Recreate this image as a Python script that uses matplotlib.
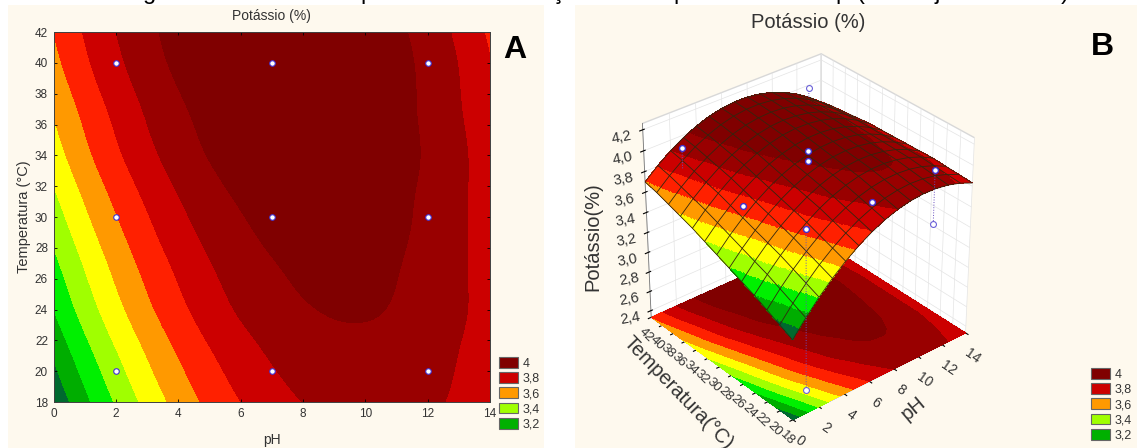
import numpy as np
import matplotlib
matplotlib.use('Agg')
import matplotlib.pyplot as plt
from matplotlib.colors import ListedColormap, BoundaryNorm
from matplotlib.patches import Patch, Rectangle
from matplotlib.tri import Triangulation, UniformTriRefiner

plt.rcParams['font.family'] = ['Liberation Sans', 'DejaVu Sans']

ph = [0, 1, 2, 3, 4, 5, 6, 7, 8, 9, 10, 11, 12, 13, 14]
temp = [18, 20, 22, 24, 26, 28, 30, 32, 34, 36, 38, 40, 42]
potassio = [
    [3.120, 3.272, 3.409, 3.530, 3.635, 3.725, 3.799, 3.858, 3.901, 3.928, 3.940, 3.936, 3.917, 3.882, 3.831],
    [3.180, 3.328, 3.461, 3.579, 3.680, 3.766, 3.837, 3.892, 3.931, 3.954, 3.963, 3.955, 3.932, 3.893, 3.839],
    [3.240, 3.385, 3.514, 3.627, 3.725, 3.808, 3.874, 3.925, 3.961, 3.981, 3.985, 3.974, 3.947, 3.904, 3.846],
    [3.300, 3.441, 3.566, 3.676, 3.770, 3.849, 3.912, 3.959, 3.991, 4.007, 4.008, 3.992, 3.962, 3.916, 3.854],
    [3.350, 3.487, 3.609, 3.715, 3.805, 3.880, 3.939, 3.983, 4.011, 4.023, 4.020, 4.001, 3.967, 3.917, 3.851],
    [3.400, 3.533, 3.651, 3.754, 3.840, 3.911, 3.967, 4.007, 4.031, 4.039, 4.033, 4.010, 3.972, 3.918, 3.849],
    [3.450, 3.580, 3.694, 3.792, 3.875, 3.943, 3.994, 4.030, 4.051, 4.056, 4.045, 4.019, 3.977, 3.919, 3.846],
    [3.500, 3.626, 3.736, 3.831, 3.910, 3.974, 4.022, 4.054, 4.071, 4.072, 4.058, 4.027, 3.982, 3.921, 3.844],
    [3.550, 3.672, 3.779, 3.870, 3.945, 4.005, 4.049, 4.078, 4.091, 4.088, 4.070, 4.036, 3.987, 3.922, 3.841],
    [3.590, 3.708, 3.811, 3.899, 3.970, 4.026, 4.067, 4.092, 4.101, 4.094, 4.073, 4.035, 3.982, 3.913, 3.829],
    [3.630, 3.745, 3.844, 3.927, 3.995, 4.048, 4.084, 4.105, 4.111, 4.101, 4.075, 4.034, 3.977, 3.904, 3.816],
    [3.670, 3.781, 3.876, 3.956, 4.020, 4.069, 4.102, 4.119, 4.121, 4.107, 4.078, 4.032, 3.972, 3.896, 3.804],
    [3.700, 3.807, 3.899, 3.975, 4.035, 4.080, 4.109, 4.123, 4.121, 4.103, 4.070, 4.021, 3.957, 3.877, 3.781],
]
levels = [2.9, 3.2, 3.3, 3.4, 3.5, 3.6, 3.7, 3.8, 3.9, 4.0, 4.3]
band_colors = ['#00692f', '#00ad00', '#00f000', '#a0ff00', '#ffff00',
               '#ff9900', '#ff2000', '#cc0000', '#990000', '#800000']

# design points of panel A
design_ph = [2, 2, 2, 7, 7, 7, 12, 12, 12]
design_temp = [20, 30, 40, 20, 30, 40, 20, 30, 40]

# observed points of panel B
obs_ph = [2, 2, 7, 7, 7, 12, 2]
obs_temp = [40, 30, 30, 30, 20, 20, 20]
obs_k = [4.00, 3.81, 4.07, 3.97, 3.95, 3.99, 3.97]
open_ph = [12, 2, 12]
open_temp = [20, 20, 40]
open_k = [3.47, 2.41, 4.08]
# other end of the dotted stem of each open point, then the stem of pH 2, T 40
stem_ph = [12, 2, 12, 2]
stem_temp = [20, 20, 40, 40]
stem_low = [3.47, 2.41, 4.00, 3.80]
stem_high = [3.99, 3.97, 4.08, 4.00]

legend_labels = ['4', '3,8', '3,6', '3,4', '3,2']
legend_colors = ['#800000', '#cc0000', '#ff9900', '#a0ff00', '#00b000']
caption_bits = [('g', 150), ('p', 367), ('ç', 558), ('p', 680), ('p', 842),
                ('(', 860), ('j', 937), (')', 1065)]

W, H = 1137, 448
X, Y = np.meshgrid(ph, temp)
Z = np.array(potassio)
text_col = '#333333'

# matplotlib's refiner smooths the bands between the read grid values
tri = Triangulation(X.ravel(), Y.ravel())
tri_fine, z_fine = UniformTriRefiner(tri).refine_field(Z.ravel(), subdiv=4)


def box(x0, y0, x1, y1):
    # pixel box (top-left origin) to figure fractions
    return [x0 / W, 1 - y1 / H, (x1 - x0) / W, (y1 - y0) / H]


def comma(v):
    return f'{v:.1f}'.replace('.', ',')


fig = plt.figure(figsize=(W / 100, H / 100), dpi=100, facecolor='white')
fig.add_artist(Rectangle((8 / W, 0), 536 / W, 1 - 5 / H, transform=fig.transFigure, color='#fef9ee', lw=0, zorder=-1))
fig.add_artist(Rectangle((575 / W, 0), 562 / W, 1 - 5 / H, transform=fig.transFigure, color='#fef9ee', lw=0, zorder=-1))
for ch, px in caption_bits:
    fig.text(px / W, 1 + 1 / H, ch, fontsize=17, color='black', ha='center', va='baseline')

# Panel A
ax = fig.add_axes(box(53.5, 32, 490, 402))
ax.tricontourf(tri_fine, z_fine, levels=levels, colors=band_colors)
ax.scatter(design_ph, design_temp, s=16, c='white', edgecolors='#4030d0', linewidths=0.8, zorder=3)
ax.set_xlim(0, 14)
ax.set_ylim(18, 42)
ax.set_xticks(range(0, 15, 2))
ax.set_yticks(range(18, 43, 2))
ax.tick_params(direction='in', top=True, right=True, length=2.5, width=0.6, labelsize=8.5, labelcolor=text_col, pad=4)
for s in ax.spines.values():
    s.set_linewidth(0.7)
    s.set_color('#404040')
ax.set_xlabel('pH', fontsize=10, color=text_col, labelpad=10)
ax.set_ylabel('Temperatura (°C)', fontsize=10.5, color=text_col, labelpad=3)
ax.set_title('Potássio (%)', fontsize=10, color=text_col, pad=9)


def band_legend(x_px, y_px):
    handles = [Patch(facecolor=c, edgecolor='#666666', lw=0.8) for c in legend_colors]
    fig.legend(handles, legend_labels, loc='upper left', bbox_to_anchor=(x_px / W, 1 - y_px / H),
               frameon=False, fontsize=9, labelcolor=text_col, handlelength=1.5, handleheight=0.95,
               handletextpad=0.4, labelspacing=0.2, borderpad=0, borderaxespad=0)


band_legend(499, 357)
fig.text(515 / W, 1 - 50 / H, 'A', fontsize=23, fontweight='bold', ha='center', va='center', color='black')

# Panel B
zlow, zhigh = 2.33, 4.26
ax3 = fig.add_axes(box(597, 31, 1007, 441), projection='3d', computed_zorder=False)
ax3.patch.set_alpha(0)
ax3.view_init(elev=32, azim=-130)
ax3.set_box_aspect((1, 1, 1.0), zoom=0.94)
ax3.set_xlim(0, 14)
ax3.set_ylim(18, 42)
ax3.set_zlim(zlow, zhigh)
ax3.contourf(X, Y, Z, levels=levels, colors=band_colors, zdir='z', offset=zlow, zorder=1)

ax3.plot_trisurf(tri_fine, z_fine, cmap=ListedColormap(band_colors), norm=BoundaryNorm(levels, len(band_colors)),
                 linewidth=0, antialiased=False, shade=False, zorder=2)
ax3.plot_wireframe(X, Y, Z, rstride=1, cstride=1, color='#33260f', linewidth=0.6, zorder=3)

for p, t, lo, hi in zip(stem_ph, stem_temp, stem_low, stem_high):
    ax3.plot([p, p], [t, t], [lo, hi], color='#6a50c0', lw=0.7, ls=':', zorder=4)
ax3.scatter(obs_ph, obs_temp, obs_k, s=18, c='white', edgecolors='#4030d0', linewidths=1.0,
            depthshade=False, zorder=5)
ax3.scatter(open_ph, open_temp, open_k, s=18, c='white', edgecolors='#6a60d8', linewidths=0.8,
            depthshade=False, zorder=5)

ax3.set_xticks(range(0, 15, 2))
ax3.set_yticks(range(18, 43, 2))
zt = [2.4, 2.6, 2.8, 3.0, 3.2, 3.4, 3.6, 3.8, 4.0, 4.2]
ax3.set_zticks(zt)
ax3.set_zticklabels([comma(v) for v in zt])
ax3.tick_params(axis='x', labelsize=10, labelcolor=text_col, pad=-1, labelrotation=-35)
ax3.tick_params(axis='y', labelsize=9.5, labelcolor=text_col, pad=-3, labelrotation=-45)
ax3.tick_params(axis='z', labelsize=10.5, labelcolor=text_col, pad=2, labelrotation=10)
for a in (ax3.xaxis, ax3.yaxis, ax3.zaxis):
    a.set_pane_color('white')
    a.pane.set_edgecolor('#d8d8d8')
    a.line.set_color('#777777')
    a.line.set_linewidth(0.6)
    a._axinfo['grid'].update(color='#e4e4e4', linewidth=0.5)

fig.text(808 / W, 1 - 22 / H, 'Potássio (%)', fontsize=14.5, color=text_col, ha='center', va='center')
fig.text(593 / W, 1 - 237 / H, 'Potássio(%)', fontsize=14.5, color=text_col, rotation=90, ha='center', va='center')
fig.text(678 / W, 1 - 393 / H, 'Temperatura(°C)', fontsize=14.5, color=text_col, rotation=-46, ha='center', va='center', rotation_mode='anchor')
fig.text(913 / W, 1 - 408 / H, 'pH', fontsize=14.5, color=text_col, rotation=40, ha='center', va='center', rotation_mode='anchor')
band_legend(1091, 368)
fig.text(1102 / W, 1 - 47 / H, 'B', fontsize=23, fontweight='bold', ha='center', va='center', color='black')

fig.savefig('out.png', dpi=100, facecolor='white')
